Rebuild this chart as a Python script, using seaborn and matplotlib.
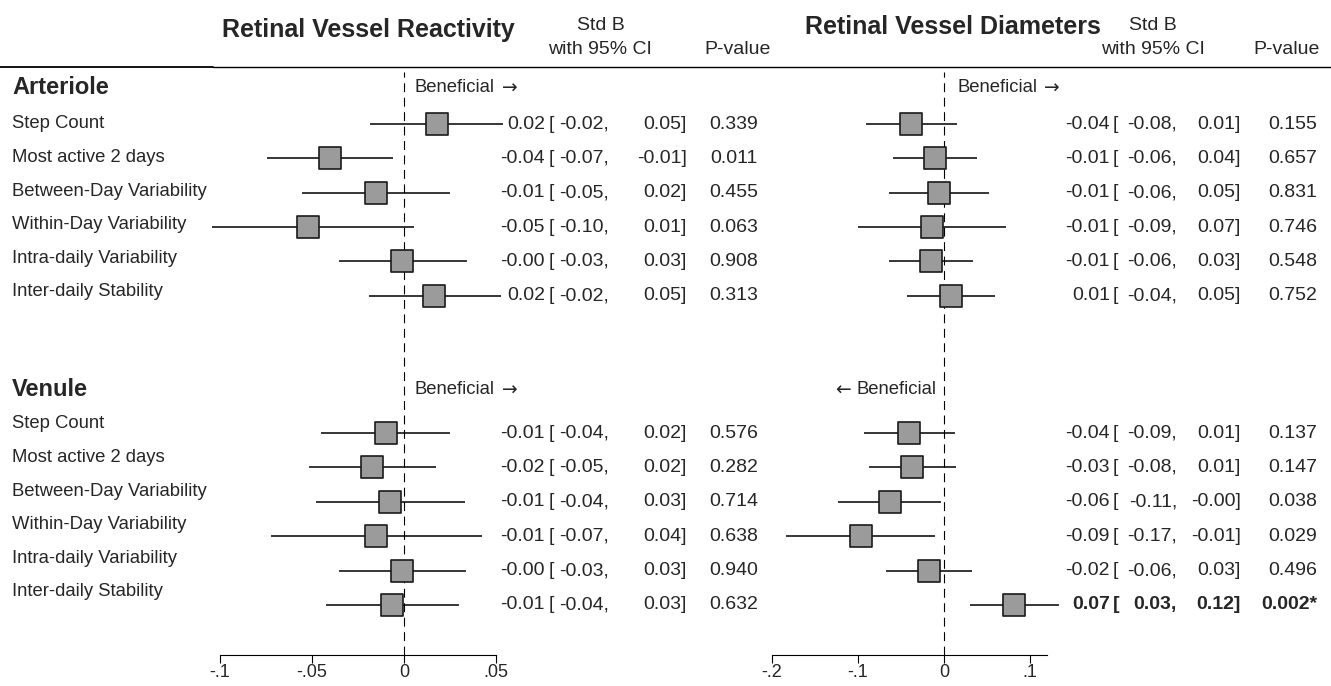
import matplotlib
matplotlib.use('Agg')
import pandas as pd
import matplotlib.pyplot as plt
import seaborn as sns
from matplotlib.transforms import blended_transform_factory
from matplotlib.lines import Line2D

measures = ['Step Count', 'Most active 2 days', 'Between-Day Variability',
            'Within-Day Variability', 'Intra-daily Variability', 'Inter-daily Stability']

# plotted estimates / CI ends (read off the marks)
react_art_b = [0.0178, -0.0402, -0.0150, -0.0524, -0.0011, 0.0165]
react_art_lo = [-0.0183, -0.0743, -0.0555, -0.1042, -0.0352, -0.0192]
react_art_hi = [0.0536, -0.0058, 0.0252, 0.0056, 0.0341, 0.0526]
react_ven_b = [-0.0096, -0.0172, -0.0074, -0.0150, -0.0009, -0.0064]
react_ven_lo = [-0.0449, -0.0515, -0.0476, -0.0723, -0.0352, -0.0422]
react_ven_hi = [0.0252, 0.0172, 0.0330, 0.0424, 0.0335, 0.0297]
diam_art_b = [-0.0378, -0.0108, -0.0062, -0.0139, -0.0150, 0.0081]
diam_art_lo = [-0.0902, -0.0593, -0.0644, -0.1002, -0.0640, -0.0424]
diam_art_hi = [0.0146, 0.0385, 0.0520, 0.0720, 0.0339, 0.0590]
diam_ven_b = [-0.0401, -0.0366, -0.0628, -0.0967, -0.0169, 0.0813]
diam_ven_lo = [-0.0928, -0.0867, -0.1225, -0.1838, -0.0670, 0.0297]
diam_ven_hi = [0.0127, 0.0135, -0.0039, -0.0100, 0.0328, 0.1330]

# printed values: (Std B, lower, upper, P)
react_art_txt = [(0.02, -0.02, 0.05, 0.339), (-0.04, -0.07, -0.01, 0.011), (-0.01, -0.05, 0.02, 0.455),
                 (-0.05, -0.10, 0.01, 0.063), (-0.0, -0.03, 0.03, 0.908), (0.02, -0.02, 0.05, 0.313)]
react_ven_txt = [(-0.01, -0.04, 0.02, 0.576), (-0.02, -0.05, 0.02, 0.282), (-0.01, -0.04, 0.03, 0.714),
                 (-0.01, -0.07, 0.04, 0.638), (-0.0, -0.03, 0.03, 0.940), (-0.01, -0.04, 0.03, 0.632)]
diam_art_txt = [(-0.04, -0.08, 0.01, 0.155), (-0.01, -0.06, 0.04, 0.657), (-0.01, -0.06, 0.05, 0.831),
                (-0.01, -0.09, 0.07, 0.746), (-0.01, -0.06, 0.03, 0.548), (0.01, -0.04, 0.05, 0.752)]
diam_ven_txt = [(-0.04, -0.09, 0.01, 0.137), (-0.03, -0.08, 0.01, 0.147), (-0.06, -0.11, -0.0, 0.038),
                (-0.09, -0.17, -0.01, 0.029), (-0.02, -0.06, 0.03, 0.496), (0.07, 0.03, 0.12, 0.002)]

W, H = 1331, 686
def fx(px):
    return px / W
def fy(py):
    return 1 - py / H

sns.set_style('white')
plt.rcParams['font.family'] = ['Liberation Sans', 'DejaVu Sans']

fig = plt.figure(figsize=(W / 100, H / 100), dpi=100)

# panel setup: axes px left/right, xlim, spine bounds, ticks, text column px
panels = [
    dict(title='Retinal Vessel Reactivity', px=(205.3, 514.4), xlim=(-0.108, 0.06),
         bounds=(-0.1, 0.05), ticks=[-0.1, -0.05, 0, 0.05], ticklabels=['-.1', '-.05', '0', '.05'],
         cols=(545, 549, 608.5, 687, 758),
         data={'Arteriole': (react_art_b, react_art_lo, react_art_hi, react_art_txt),
               'Venule': (react_ven_b, react_ven_lo, react_ven_hi, react_ven_txt)}),
    dict(title='Retinal Vessel Diameters', px=(763.0, 1064.7), xlim=(-0.21, 0.14),
         bounds=(-0.2, 0.12), ticks=[-0.2, -0.1, 0, 0.1], ticklabels=['-.2', '-.1', '0', '.1'],
         cols=(1110, 1113, 1177, 1241, 1317),
         data={'Arteriole': (diam_art_b, diam_art_lo, diam_art_hi, diam_art_txt),
               'Venule': (diam_ven_b, diam_ven_lo, diam_ven_hi, diam_ven_txt)}),
]

top_px, bot_px = 66, 655
ylim = (16.46, -0.69)
first_row = {'Arteriole': 1, 'Venule': 10}
sig_level = 0.05 / 12

for p in panels:
    rows = []
    for vessel, (b, lo, hi, txt) in p['data'].items():
        for i, m in enumerate(measures):
            rows.append(dict(vessel=vessel, measure=m, b=b[i], lo=lo[i], hi=hi[i],
                             row=first_row[vessel] + i, est=txt[i][0], cl=txt[i][1],
                             cu=txt[i][2], pval=txt[i][3]))
    df = pd.DataFrame(rows)

    ax = fig.add_axes([fx(p['px'][0]), fy(bot_px), (p['px'][1] - p['px'][0]) / W, (bot_px - top_px) / H])
    ax.hlines(df['row'], df['lo'], df['hi'], color='black', lw=1.1, zorder=2)
    sns.scatterplot(data=df, x='b', y='row', marker='s', s=235, color='#9b9b9b',
                    edgecolor='#1a1a1a', linewidth=1.2, zorder=3, legend=False, ax=ax)
    ax.axvline(0, ymin=0, ymax=(bot_px - 72) / (bot_px - top_px), color='black', lw=0.8,
               linestyle=(0, (8, 5)), zorder=1)
    ax.set_xlim(p['xlim'])
    ax.set_ylim(ylim)
    ax.set_xlabel('')
    ax.set_ylabel('')
    ax.set_yticks([])
    ax.set_xticks(p['ticks'])
    ax.set_xticklabels(p['ticklabels'])
    ax.tick_params(axis='x', direction='out', length=5.5, width=0.8, labelsize=13, pad=1,
                   bottom=True, color='black')
    for s in ['left', 'right', 'top']:
        ax.spines[s].set_visible(False)
    ax.spines['bottom'].set_bounds(*p['bounds'])
    ax.spines['bottom'].set_linewidth(0.8)
    ax.spines['bottom'].set_color('black')
    ax.patch.set_alpha(0)

    tr = blended_transform_factory(fig.transFigure, ax.transData)
    c_est, c_br, c_lo, c_hi, c_p = p['cols']
    for _, r in df.iterrows():
        wt = 'bold' if r['pval'] < sig_level else 'normal'
        kw = dict(transform=tr, va='center', fontsize=14, weight=wt)
        ax.text(fx(c_est), r['row'], '%.2f' % r['est'], ha='right', **kw)
        ax.text(fx(c_br), r['row'], '[', ha='left', **kw)
        ax.text(fx(c_lo), r['row'], '%.2f,' % r['cl'], ha='right', **kw)
        ax.text(fx(c_hi), r['row'], '%.2f]' % r['cu'], ha='right', **kw)
        ax.text(fx(c_p), r['row'], '%.3f' % r['pval'] + ('*' if wt == 'bold' else ''), ha='right', **kw)

# headers
fig.text(fx(222), fy(30), panels[0]['title'], fontsize=18, weight='bold', va='center')
fig.text(fx(805), fy(27), panels[1]['title'], fontsize=18, weight='bold', va='center')
for x, y, s in [(601, 25, 'Std B'), (600, 50, 'with 95% CI'), (738, 50, 'P-value'),
                (1153, 25, 'Std B'), (1153, 50, 'with 95% CI'), (1287, 50, 'P-value')]:
    fig.text(fx(x), fy(y), s, fontsize=14, ha='center', va='center')
fig.add_artist(Line2D([0, fx(213)], [fy(66.5), fy(66.5)], transform=fig.transFigure, color='black', lw=1.3))
fig.add_artist(Line2D([fx(213), 1], [fy(67), fy(67)], transform=fig.transFigure, color='black', lw=1))

# section labels and row labels
for vessel, hy, ly in [('Arteriole', 88, 124), ('Venule', 390, 424)]:
    fig.text(fx(12), fy(hy), vessel, fontsize=17, weight='bold', va='center')
    for i, m in enumerate(measures):
        fig.text(fx(12), fy(ly + 33.6 * i), m, fontsize=13.3, va='center')

# direction notes
arrow_font = ['DejaVu Sans']
for x, y in [(415, 88), (415, 390), (957, 88)]:
    fig.text(fx(x), fy(y), 'Beneficial', fontsize=13.3, va='center')
    fig.text(fx(x + 87), fy(y), '\u2192', fontsize=13.5, va='center', family=arrow_font)
fig.text(fx(936), fy(390), 'Beneficial', fontsize=13.3, va='center', ha='right')
fig.text(fx(936 - 85), fy(390), '\u2190', fontsize=13.5, va='center', ha='right', family=arrow_font)

fig.savefig('out.png', dpi=100)
